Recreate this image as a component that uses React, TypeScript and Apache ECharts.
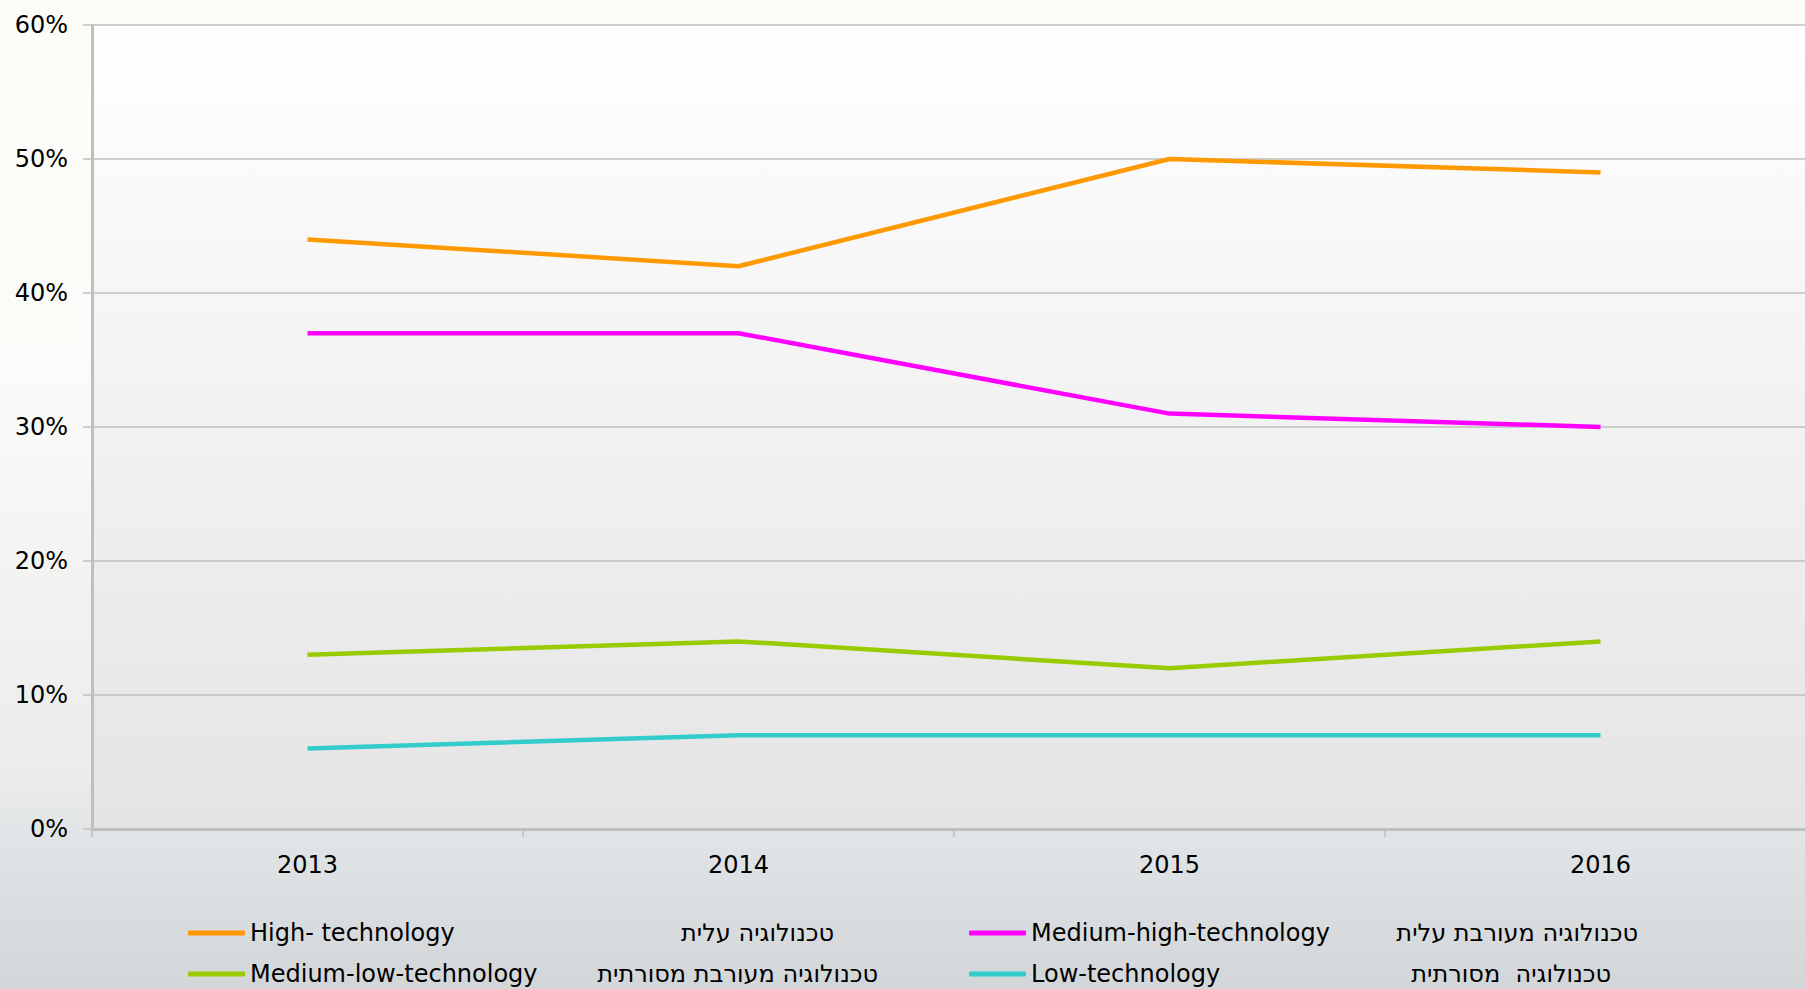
import React, { useEffect, useRef } from "react";
import * as echarts from "echarts";

const years = ["2013", "2014", "2015", "2016"];
const seriesNames = [
  "High- technology",
  "Medium-high-technology",
  "Medium-low-technology",
  "Low-technology",
];
const hebrewNames = [
  "טכנולוגיה עלית",
  "טכנולוגיה מעורבת עלית",
  "טכנולוגיה מעורבת מסורתית",
  "טכנולוגיה  מסורתית",
];
const highTech = [44, 42, 50, 49];
const mediumHighTech = [37, 37, 31, 30];
const mediumLowTech = [13, 14, 12, 14];
const lowTech = [6, 7, 7, 7];
const seriesColors = ["#FF9900", "#FF00FF", "#99CC00", "#33CCCC"];
const yTicks = [0, 10, 20, 30, 40, 50, 60];

const FONT = "DejaVu Sans";

export default function App() {
  const ref = useRef<HTMLDivElement>(null);

  useEffect(() => {
    if (!ref.current) return;
    const chart = echarts.init(ref.current, null, { renderer: "svg" });
    const values = [highTech, mediumHighTech, mediumLowTech, lowTech];

    // legend placement (one legend per item): [left, top]
    const legendPos = [
      [188, 921],
      [969, 921],
      [188, 962],
      [969, 962],
    ];
    const hebrewPos = [
      [834, 933],
      [1638, 933],
      [878, 974],
      [1611, 974],
    ];

    const option: any = {
      animation: false,
      backgroundColor: {
        type: "linear",
        x: 0,
        y: 0,
        x2: 0,
        y2: 1,
        colorStops: [
          { offset: 0, color: "#fdfdf8" },
          { offset: 0.4, color: "#fafaf8" },
          { offset: 0.78, color: "#ebeceb" },
          { offset: 0.84, color: "#e2e5e7" },
          { offset: 1, color: "#d2d6d9" },
        ],
      },
      grid: {
        left: 92,
        top: 25,
        right: 0,
        bottom: 160,
        show: true,
        borderWidth: 0,
        backgroundColor: {
          type: "linear",
          x: 0,
          y: 0,
          x2: 0,
          y2: 1,
          colorStops: [
            { offset: 0, color: "#ffffff" },
            { offset: 1, color: "#e4e4e4" },
          ],
        },
      },
      xAxis: {
        type: "category",
        data: years,
        boundaryGap: true,
        axisLine: { show: true, lineStyle: { color: "#bfbfbf", width: 3 } },
        axisTick: {
          show: true,
          alignWithLabel: false,
          length: 8,
          lineStyle: { color: "#bfbfbf", width: 1.5 },
        },
        axisLabel: {
          margin: 24,
          color: "#000",
          fontFamily: FONT,
          fontSize: 24,
        },
        splitLine: { show: false },
      },
      yAxis: {
        type: "value",
        min: yTicks[0],
        max: yTicks[yTicks.length - 1],
        interval: 10,
        axisLine: { show: true, lineStyle: { color: "#bfbfbf", width: 3 } },
        axisTick: {
          show: true,
          length: 9,
          lineStyle: { color: "#bfbfbf", width: 1.5 },
        },
        axisLabel: {
          margin: 24,
          color: "#000",
          fontFamily: FONT,
          fontSize: 24,
          formatter: "{value}%",
        },
        splitLine: { show: true, lineStyle: { color: "#bfbfbf", width: 1.5 } },
      },
      legend: seriesNames.map((name, i) => ({
        data: [name],
        left: legendPos[i][0],
        top: legendPos[i][1],
        padding: 0,
        icon: "roundRect",
        itemWidth: 57,
        itemHeight: 5,
        itemGap: 0,
        textStyle: { color: "#000", fontFamily: FONT, fontSize: 24 },
        selectedMode: false,
      })),
      graphic: hebrewNames.map((t, i) => ({
        type: "text",
        x: hebrewPos[i][0],
        y: hebrewPos[i][1],
        style: {
          text: t,
          align: "right",
          verticalAlign: "middle",
          fill: "#000",
          font: `24px "${FONT}"`,
        },
      })),
      series: seriesNames.map((name, i) => ({
        name,
        type: "line",
        data: values[i],
        symbol: "none",
        smooth: false,
        color: seriesColors[i],
        lineStyle: { color: seriesColors[i], width: 4.5 },
      })),
    };

    chart.setOption(option);
    return () => chart.dispose();
  }, []);

  return (
    <div
      style={{
        position: "fixed",
        left: 0,
        top: 0,
        width: 1805,
        height: 989,
        overflow: "hidden",
      }}
    >
      <div ref={ref} style={{ width: 1816, height: 989 }} />
    </div>
  );
}
